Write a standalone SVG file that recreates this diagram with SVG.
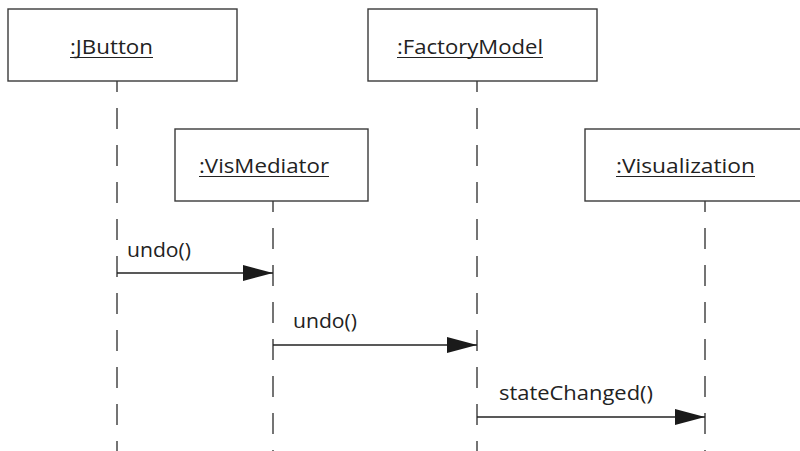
<svg xmlns="http://www.w3.org/2000/svg" width="800" height="451" viewBox="0 0 800 451">
<defs>
<style>
.box{fill:#fff;stroke:#3a3a3a;stroke-width:1.4}
.life{stroke:#3a3a3a;stroke-width:1.4;stroke-dasharray:21 16;fill:none}
.msg{stroke:#222;stroke-width:1.3;fill:none}
.t{font-family:"Open Sans","DejaVu Sans",sans-serif;font-size:20.5px;fill:#222}
.ul{stroke:#222;stroke-width:1.2}
</style>
<marker id="ah" markerWidth="32" markerHeight="18" refX="30" refY="8" orient="auto" markerUnits="userSpaceOnUse">
<path d="M0,0 L30,8 L0,16 Z" fill="#1a1a1a"/>
</marker>
</defs>
<g id="lifelines">
<line class="life" x1="117" y1="81" x2="117" y2="451" stroke-dashoffset="10"/>
<line class="life" x1="477" y1="81" x2="477" y2="451" stroke-dashoffset="10"/>
<line class="life" x1="273" y1="201" x2="273" y2="451" stroke-dashoffset="10"/>
<line class="life" x1="705" y1="201" x2="705" y2="451" stroke-dashoffset="10"/>
</g>
<g id="jbutton">
<rect class="box" x="8" y="9" width="229" height="72"/>
<text class="t" x="70" y="54" textLength="83" lengthAdjust="spacingAndGlyphs">:JButton</text>
<line class="ul" x1="70" y1="57.5" x2="153" y2="57.5"/>
</g>
<g id="factorymodel">
<rect class="box" x="368" y="9" width="229" height="72"/>
<text class="t" x="397" y="54" textLength="146" lengthAdjust="spacingAndGlyphs">:FactoryModel</text>
<line class="ul" x1="397" y1="57.5" x2="543" y2="57.5"/>
</g>
<g id="vismediator">
<rect class="box" x="175" y="129" width="193" height="72"/>
<text class="t" x="199" y="173" textLength="130" lengthAdjust="spacingAndGlyphs">:VisMediator</text>
<line class="ul" x1="199" y1="176.5" x2="329" y2="176.5"/>
</g>
<g id="visualization">
<rect class="box" x="585" y="129" width="240" height="72"/>
<text class="t" x="616" y="173" textLength="139" lengthAdjust="spacingAndGlyphs">:Visualization</text>
<line class="ul" x1="616" y1="176.5" x2="755" y2="176.5"/>
</g>
<g id="connectors">
<line class="msg" x1="117" y1="273" x2="273" y2="273" marker-end="url(#ah)"/>
<text class="t" x="127" y="257" textLength="64" lengthAdjust="spacingAndGlyphs">undo()</text>
<line class="msg" x1="273" y1="345" x2="477" y2="345" marker-end="url(#ah)"/>
<text class="t" x="293" y="328" textLength="64" lengthAdjust="spacingAndGlyphs">undo()</text>
<line class="msg" x1="477" y1="417" x2="705" y2="417" marker-end="url(#ah)"/>
<text class="t" x="499" y="400" textLength="154" lengthAdjust="spacingAndGlyphs">stateChanged()</text>
</g>
</svg>
